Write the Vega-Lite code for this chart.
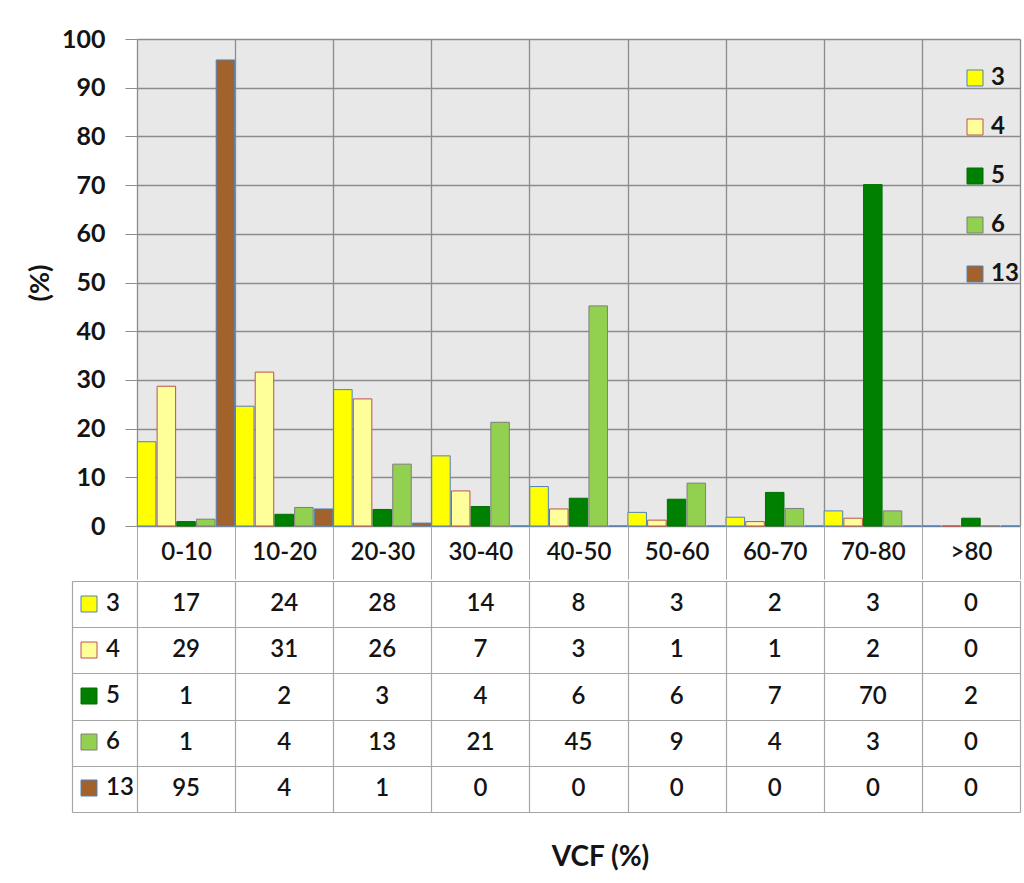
{
  "$schema": "https://vega.github.io/schema/vega-lite/v6.json",
  "background": "white",
  "padding": {"left": 26, "top": 27, "right": 4, "bottom": 5},
  "spacing": 0,
  "config": {
    "font": "Lato",
    "view": {"stroke": null},
    "axis": {"labelColor": "#141414", "titleColor": "#141414"},
    "legend": {"labelColor": "#141414"}
  },
  "resolve": {"legend": {"fill": "independent", "stroke": "independent"}},
  "datasets": {
    "d": [
      {"cat": "0-10", "series": "3", "pct": 17.3, "tab": 17},
      {"cat": "0-10", "series": "4", "pct": 28.7, "tab": 29},
      {"cat": "0-10", "series": "5", "pct": 0.9, "tab": 1},
      {"cat": "0-10", "series": "6", "pct": 1.4, "tab": 1},
      {"cat": "0-10", "series": "13", "pct": 95.7, "tab": 95},
      {"cat": "10-20", "series": "3", "pct": 24.6, "tab": 24},
      {"cat": "10-20", "series": "4", "pct": 31.6, "tab": 31},
      {"cat": "10-20", "series": "5", "pct": 2.4, "tab": 2},
      {"cat": "10-20", "series": "6", "pct": 3.8, "tab": 4},
      {"cat": "10-20", "series": "13", "pct": 3.5, "tab": 4},
      {"cat": "20-30", "series": "3", "pct": 28.0, "tab": 28},
      {"cat": "20-30", "series": "4", "pct": 26.1, "tab": 26},
      {"cat": "20-30", "series": "5", "pct": 3.4, "tab": 3},
      {"cat": "20-30", "series": "6", "pct": 12.7, "tab": 13},
      {"cat": "20-30", "series": "13", "pct": 0.6, "tab": 1},
      {"cat": "30-40", "series": "3", "pct": 14.4, "tab": 14},
      {"cat": "30-40", "series": "4", "pct": 7.2, "tab": 7},
      {"cat": "30-40", "series": "5", "pct": 4.0, "tab": 4},
      {"cat": "30-40", "series": "6", "pct": 21.3, "tab": 21},
      {"cat": "30-40", "series": "13", "pct": 0, "tab": 0},
      {"cat": "40-50", "series": "3", "pct": 8.1, "tab": 8},
      {"cat": "40-50", "series": "4", "pct": 3.5, "tab": 3},
      {"cat": "40-50", "series": "5", "pct": 5.7, "tab": 6},
      {"cat": "40-50", "series": "6", "pct": 45.2, "tab": 45},
      {"cat": "40-50", "series": "13", "pct": 0, "tab": 0},
      {"cat": "50-60", "series": "3", "pct": 2.8, "tab": 3},
      {"cat": "50-60", "series": "4", "pct": 1.2, "tab": 1},
      {"cat": "50-60", "series": "5", "pct": 5.5, "tab": 6},
      {"cat": "50-60", "series": "6", "pct": 8.8, "tab": 9},
      {"cat": "50-60", "series": "13", "pct": 0, "tab": 0},
      {"cat": "60-70", "series": "3", "pct": 1.8, "tab": 2},
      {"cat": "60-70", "series": "4", "pct": 0.9, "tab": 1},
      {"cat": "60-70", "series": "5", "pct": 6.9, "tab": 7},
      {"cat": "60-70", "series": "6", "pct": 3.6, "tab": 4},
      {"cat": "60-70", "series": "13", "pct": 0, "tab": 0},
      {"cat": "70-80", "series": "3", "pct": 3.1, "tab": 3},
      {"cat": "70-80", "series": "4", "pct": 1.6, "tab": 2},
      {"cat": "70-80", "series": "5", "pct": 70.1, "tab": 70},
      {"cat": "70-80", "series": "6", "pct": 3.1, "tab": 3},
      {"cat": "70-80", "series": "13", "pct": 0, "tab": 0},
      {"cat": ">80", "series": "3", "pct": 0, "tab": 0},
      {"cat": ">80", "series": "4", "pct": 0, "tab": 0},
      {"cat": ">80", "series": "5", "pct": 1.6, "tab": 2},
      {"cat": ">80", "series": "6", "pct": 0, "tab": 0},
      {"cat": ">80", "series": "13", "pct": 0, "tab": 0}
    ]
  },
  "vconcat": [
    {
      "width": 883,
      "height": 487,
      "data": {"name": "d"},
      "view": {"fill": "#e8e8e8", "stroke": null},
      "mark": {"type": "bar", "strokeWidth": 1},
      "encoding": {
        "x": {
          "field": "cat", "type": "nominal",
          "scale": {"domain": ["0-10","10-20","20-30","30-40","40-50","50-60","60-70","70-80",">80"], "paddingInner": 0, "paddingOuter": 0},
          "axis": {
            "title": null, "orient": "bottom", "labelAngle": 0, "tickBand": "extent",
            "tickSize": 53, "tickColor": "#a6a6a6", "tickWidth": 1,
            "labelPadding": -27, "labelBaseline": "middle", "labelFontSize": 24, "labelFontWeight": 600,
            "domain": false, "grid": true, "gridColor": "#8c8c8c", "gridWidth": 1.3,
            "minExtent": 53, "maxExtent": 53
          }
        },
        "xOffset": {
          "field": "series", "type": "nominal",
          "scale": {"domain": ["3","4","5","6","13"], "paddingInner": 0.06, "paddingOuter": 0.02}
        },
        "y": {
          "field": "pct", "type": "quantitative",
          "scale": {"domain": [0, 100], "nice": false},
          "axis": {
            "title": "(%)", "values": [0,10,20,30,40,50,60,70,80,90,100],
            "tickSize": 12, "tickColor": "#8c8c8c", "labelPadding": 20,
            "labelFontSize": 25, "labelFontWeight": "bold", "domain": false,
            "grid": true, "gridColor": "#8c8c8c", "gridWidth": 1.3,
            "minExtent": 78, "maxExtent": 78, "titlePadding": 5,
            "titleFontSize": 27, "titleFontWeight": "bold"
          }
        },
        "fill": {
          "field": "series", "type": "nominal",
          "scale": {"domain": ["3","4","5","6","13"], "range": ["#ffff00","#ffff99","#008000","#92d050","#a3622c"]},
          "legend": {
            "title": null, "orient": "none", "legendX": 826, "legendY": 27,
            "symbolType": "square", "symbolSize": 256, "labelFontSize": 24, "labelFontWeight": "bold",
            "rowPadding": 25, "symbolStrokeWidth": 1, "labelOffset": 4, "padding": 0
          }
        },
        "stroke": {
          "field": "series", "type": "nominal",
          "scale": {"domain": ["3","4","5","6","13"], "range": ["#4f81bd","#c0504d","#007000","#7f7f7f","#4f81bd"]},
          "legend": {
            "title": null, "orient": "none", "legendX": 826, "legendY": 27,
            "symbolType": "square", "symbolSize": 256, "labelFontSize": 24, "labelFontWeight": "bold",
            "rowPadding": 25, "symbolStrokeWidth": 1, "labelOffset": 4, "padding": 0
          }
        }
      }
    },
    {
      "width": 883,
      "height": 231,
      "data": {"name": "d"},
      "encoding": {
        "x": {
          "field": "cat", "type": "nominal",
          "scale": {"domain": ["0-10","10-20","20-30","30-40","40-50","50-60","60-70","70-80",">80"], "paddingInner": 0, "paddingOuter": 0},
          "axis": {
            "title": "VCF (%)", "labels": false, "ticks": false, "domain": false,
            "grid": true, "tickBand": "extent", "gridColor": "#a6a6a6", "gridWidth": 1.2,
            "titleFontSize": 28, "titleFontWeight": "bold", "titlePadding": 31, "titleX": 463
          }
        },
        "y": {
          "field": "series", "type": "nominal",
          "scale": {"domain": ["3","4","5","6","13"], "paddingInner": 0, "paddingOuter": 0},
          "axis": {
            "title": null, "labels": false, "offset": 65, "tickSize": -65, "tickBand": "extent",
            "tickColor": "#a6a6a6", "tickWidth": 1.2, "domain": true, "domainColor": "#a6a6a6", "domainWidth": 1.2,
            "grid": true, "gridColor": "#a6a6a6", "gridWidth": 1.2
          }
        }
      },
      "layer": [
        {
          "mark": {"type": "point", "shape": "square", "filled": true, "opacity": 0},
          "encoding": {
            "fill": {
              "field": "series", "type": "nominal",
              "scale": {"domain": ["3","4","5","6","13"], "range": ["#ffff00","#ffff99","#008000","#92d050","#a3622c"]},
              "legend": {
                "title": null, "orient": "none", "legendX": -60, "legendY": 11,
                "symbolType": "square", "symbolSize": 256, "symbolOpacity": 1, "labelFontSize": 24, "labelFontWeight": 600,
                "rowPadding": 22, "symbolStrokeWidth": 1, "labelOffset": 5, "padding": 0
              }
            },
            "stroke": {
              "field": "series", "type": "nominal",
              "scale": {"domain": ["3","4","5","6","13"], "range": ["#4f81bd","#c0504d","#007000","#7f7f7f","#4f81bd"]},
              "legend": {
                "title": null, "orient": "none", "legendX": -60, "legendY": 11,
                "symbolType": "square", "symbolSize": 256, "symbolOpacity": 1, "labelFontSize": 24, "labelFontWeight": 600,
                "rowPadding": 22, "symbolStrokeWidth": 1, "labelOffset": 5, "padding": 0
              }
            }
          }
        },
        {
          "mark": {"type": "text", "fontSize": 24, "fontWeight": 600, "color": "#141414"},
          "encoding": {"text": {"field": "tab", "type": "quantitative"}}
        }
      ]
    }
  ]
}
